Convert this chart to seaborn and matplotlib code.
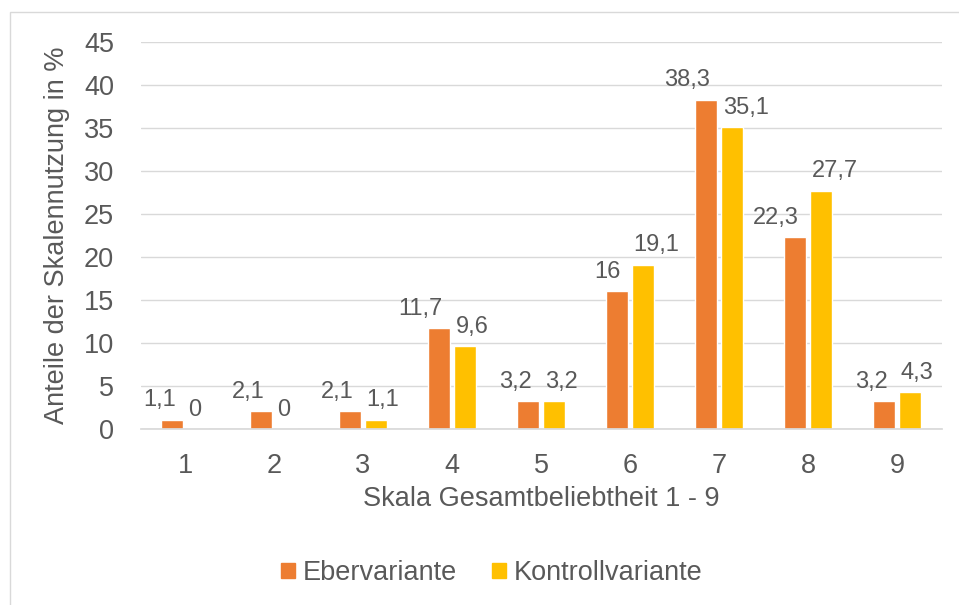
import matplotlib
matplotlib.use("Agg")
import matplotlib.pyplot as plt
import matplotlib.patches as mpatches
import seaborn as sns
import pandas as pd

# -- Data ----------------------------------------------------------------------
categories = ["1", "2", "3", "4", "5", "6", "7", "8", "9"]
eber = [1.1, 2.1, 2.1, 11.7, 3.2, 16.0, 38.3, 22.3, 3.2]
kontroll = [0.0, 0.0, 1.1, 9.6, 3.2, 19.1, 35.1, 27.7, 4.3]
series = ["Ebervariante", "Kontrollvariante"]
colors = ["#ED7D31", "#FFC000"]
yticks = [0, 5, 10, 15, 20, 25, 30, 35, 40, 45]

df = pd.DataFrame({
    "Skala": categories * 2,
    "Anteil": eber + kontroll,
    "Variante": [series[0]] * len(eber) + [series[1]] * len(kontroll),
})

TXT = "#595959"
sns.set_theme(style="white")
plt.rcParams["font.family"] = ["Liberation Sans", "DejaVu Sans"]

fig = plt.figure(figsize=(9.59, 6.05), dpi=100)
ax = fig.add_axes([140.5 / 959, 176 / 605, 801 / 959, 387 / 605])

sns.barplot(data=df, x="Skala", y="Anteil", hue="Variante", order=categories,
            hue_order=series, palette=colors, width=0.58, gap=0.17,
            saturation=1, ax=ax, legend=False)

# data labels (german decimal comma), excel-like: orange left of bar, yellow right
for i, cont in enumerate(ax.containers):
    for bar, v in zip(cont, [eber, kontroll][i]):
        txt = f"{v:g}".replace(".", ",")
        if i == 0:
            xy, dx, ha = (bar.get_x() + bar.get_width(), bar.get_height()), -5, "right"
        else:
            xy, dx, ha = (bar.get_x(), bar.get_height()), 1, "left"
        ax.annotate(txt, xy, xytext=(dx, 6), textcoords="offset points",
                    ha=ha, va="bottom", fontsize=17, color=TXT)

ax.set_xlim(-0.5, 8.5)
ax.set_ylim(0, 45)
ax.set_yticks(yticks)
ax.yaxis.grid(True, color="#D9D9D9", linewidth=1)
ax.set_axisbelow(True)
for s in ["top", "right", "left"]:
    ax.spines[s].set_visible(False)
ax.spines["bottom"].set_color("#D9D9D9")
ax.tick_params(axis="x", length=0, labelsize=19.5, colors=TXT, pad=17)
ax.tick_params(axis="y", length=0, labelsize=19.5, colors=TXT, pad=19)
ax.set_xlabel("Skala Gesamtbeliebtheit 1 - 9", fontsize=19.5, color=TXT, labelpad=5)
ax.set_ylabel("Anteile der Skalennutzung in %", fontsize=19.5, color=TXT, labelpad=10)

handles = [mpatches.Patch(color=c, label=s) for c, s in zip(colors, series)]
fig.legend(handles=handles, loc="center", bbox_to_anchor=(492 / 959, 1 - 573 / 605),
           ncol=2, frameon=False, fontsize=19.5, labelcolor=TXT,
           handlelength=0.5, handleheight=0.5, handletextpad=0.3, columnspacing=1.3)

# chart frame
fig.patches.append(mpatches.Rectangle((10 / 959, -0.1), 1.2, 1 - 12 / 605 + 0.1,
                                      transform=fig.transFigure, fill=False,
                                      edgecolor="#D9D9D9", linewidth=1))

fig.savefig("out.png", dpi=100)
